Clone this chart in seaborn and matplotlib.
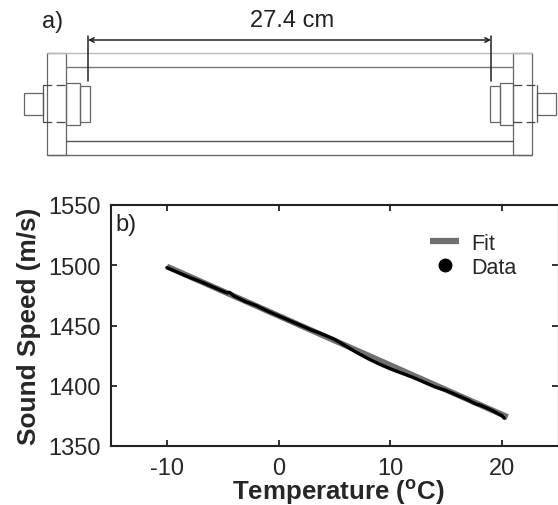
import numpy as np
import pandas as pd
import matplotlib
matplotlib.use("Agg")
import matplotlib.pyplot as plt
from matplotlib.lines import Line2D
from matplotlib.patches import Rectangle
import seaborn as sns

sns.set_style("ticks")
plt.rcParams["font.family"] = ["Liberation Sans", "DejaVu Sans"]
plt.rcParams["mathtext.fontset"] = "custom"
plt.rcParams["mathtext.bf"] = "Liberation Sans:bold"
plt.rcParams["mathtext.rm"] = "Liberation Sans"
plt.rcParams["axes.unicode_minus"] = False

# sound speed vs temperature
fit_temp = [-10, 20.5]
fit_speed = [1499, 1374]
data_temp = [-10, -9, -8, -7, -6, -5, -4.6, -4.4, -4, -3, -2, -1, 0, 1, 2, 3, 4, 5, 6, 7, 8,
             9, 10, 11, 12, 13, 14, 15, 16, 17, 17.6, 18, 19, 20, 20.2]
data_speed = [1498, 1494, 1490, 1486.5, 1482.5, 1478.5, 1477, 1477.5, 1474.5, 1470, 1466.5,
              1462, 1458, 1454, 1450, 1446, 1442.5, 1438.5, 1433, 1427.5, 1422.5, 1418, 1414,
              1410.5, 1407, 1403, 1399, 1396, 1392, 1388, 1385, 1384, 1380, 1375, 1373]

x_ticks = [-10, 0, 10, 20]
y_ticks = [1350, 1400, 1450, 1500, 1550]

# schematic of the cell, in image pixels: (left, top, right, bottom)
body_boxes = [(47, 54, 66, 155.5), (513, 54, 531.5, 155.5), (24, 94, 42.5, 116), (536.5, 94, 555.5, 116),
              (66, 84, 80, 126), (80, 86.5, 89.5, 123), (490, 86.5, 499.5, 123), (499.5, 84, 513, 126)]
rail_lines = [(66, 513, 68, "#777777"), (66, 513, 142, "#555555"), (47, 531.5, 155.5, "#666666"),
              (47, 531.5, 54, "#bbbbbb")]
dashed_parts = [(42.5, 66, 86), (42.5, 66, 123), (513, 536.5, 86), (513, 536.5, 123)]
short_verticals = [(42.5, 86, 123), (536.5, 86, 123)]
dim_bars = [88, 491]

W, H = 558, 506
fig = plt.figure(figsize=(W / 100, H / 100), dpi=100)

# top panel, pixel coordinates
sk = fig.add_axes([0, 0, 1, 1])
sk.set_xlim(0, W)
sk.set_ylim(H, 0)
sk.axis("off")
for x0, y0, x1, y1 in body_boxes:
    sk.add_patch(Rectangle((x0, y0), x1 - x0, y1 - y0, fill=False, ec="#666666", lw=0.9))
for x0, x1, y, c in rail_lines:
    sk.plot([x0, x1], [y, y], color=c, lw=1)
for x0, x1, y in dashed_parts:
    sk.plot([x0, x1], [y, y], color="#444444", lw=0.9, dashes=(7, 3.5))
for x, y0, y1 in short_verticals:
    sk.plot([x, x], [y0, y1], color="#555555", lw=0.9)
for x in dim_bars:
    sk.plot([x, x], [37, 82], color="#222222", lw=1.1)
sk.annotate("", xy=(88, 41), xytext=(491, 41),
            arrowprops=dict(arrowstyle="<->", color="#222222", lw=1.1, mutation_scale=8, shrinkA=0, shrinkB=0))
sk.text(42, 22, "a)", fontsize=17, color="#222222", va="center")
sk.text(292, 21, "27.4 cm", fontsize=17, color="#222222", ha="center", va="center")

# bottom panel
ax = fig.add_axes([111 / W, 1 - 447 / H, 447 / W, 241 / H])
ax.patch.set_alpha(0)
sns.lineplot(x=fit_temp, y=fit_speed, color="#707070", lw=4.2, ax=ax, solid_capstyle="butt")
sns.lineplot(x=data_temp, y=data_speed, color="black", lw=2.4, ax=ax, sort=False, estimator=None)
ax.set_xlim(-15, 25)
ax.set_ylim(1350, 1550)
ax.set_xticks(x_ticks)
ax.set_yticks(y_ticks)
ax.tick_params(direction="in", length=4, width=1.3, top=True, right=True, labelsize=17, color="#222222")
ax.tick_params(axis="y", pad=7.5)
ax.tick_params(axis="x", pad=8)
for s in ax.spines.values():
    s.set_linewidth(1.5)
    s.set_color("#222222")
ax.spines["right"].set_color("#aaaaaa")
ax.spines["right"].set_linewidth(1)

ax.text(0.009, 0.965, "b)", transform=ax.transAxes, fontsize=17, color="#222222", va="top")
ax.set_xlabel(r"Temperature ($\mathbf{^{o}}$C)", fontsize=18.6, fontweight="bold", labelpad=-1.5, x=0.508)
ax.set_ylabel("Sound Speed (m/s)", fontsize=18.9, fontweight="bold", labelpad=5)

handles = [Line2D([], [], color="#707070", lw=4.5, solid_capstyle="butt"),
           Line2D([], [], color="black", marker="o", ms=9, ls="none")]
ax.legend(handles, ["Fit", "Data"], frameon=False, fontsize=15.5, loc="upper left",
          bbox_to_anchor=(0.714, 0.885), handlelength=1.35, handletextpad=0.58, labelspacing=0.14,
          borderpad=0, borderaxespad=0)

fig.savefig("out.png", dpi=100)
